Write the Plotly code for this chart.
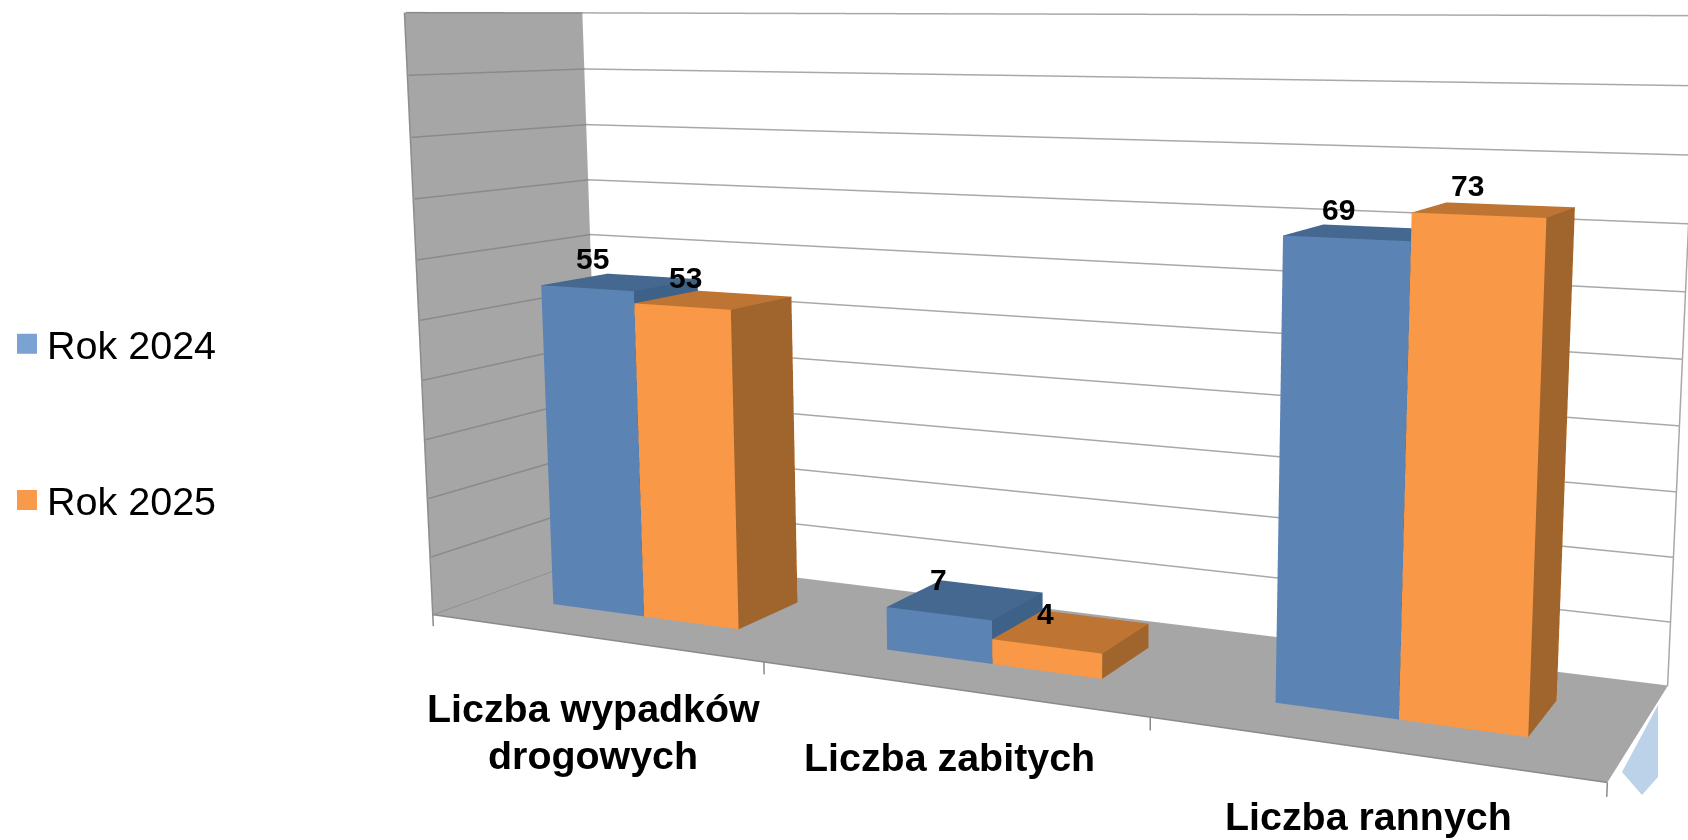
import numpy as np
import plotly.graph_objects as go

# Data
categories = [["Liczba wypadków", "drogowych"], ["Liczba zabitych"], ["Liczba rannych"]]
rok_2024 = [55, 7, 69]
rok_2025 = [53, 4, 73]
value_ticks = list(range(0, 101, 10))

# Camera and box geometry of the 3D view
EYE = (0.1911, -1.5666, 0.5405)
CENTER = (-0.0935, -0.4824, 0.0900)
UP = (-0.0176, 0.0587, 1.0)
AX, AY, AZ = 2.0, 0.2980, 1.0771
GAP, BAR_W, DEPTH_0, DEPTH_1 = 0.2169, 0.2865, 0.3010, 0.6976
SHEAR_XY, SHEAR_XZ, SHEAR_YX, SHEAR_YZ = 0.3011, -0.1603, 0.1898, 1.0930
K = 8.0

BLUE = ['#44688F', '#5B84B5', '#3E6188']
ORANGE = ['#BE7433', '#F99847', '#A0652D']
FLAT = dict(ambient=1, diffuse=0, specular=0, fresnel=0, roughness=1)
FONT = 'Liberation Sans'


def T(x, y, z):
    x, y, z = (np.array(v, float) for v in (x, y, z))
    return x + SHEAR_XY * y + SHEAR_XZ * z / 100, y + SHEAR_YX * x / 3 + SHEAR_YZ * z / 100, z


fig = go.Figure()


def box(x0, x1, y0, y1, h, cols):
    X = [x0, x1, x1, x0, x0, x1, x1, x0]
    Y = [y0, y0, y1, y1, y0, y0, y1, y1]
    Z = [0, 0, 0, 0, h, h, h, h]
    a, b, c = T(X, Y, Z)
    fig.add_trace(go.Mesh3d(
        x=a, y=b, z=c,
        i=[4, 4, 0, 0, 1, 1, 3, 3], j=[5, 6, 1, 5, 2, 6, 2, 6], k=[6, 7, 5, 4, 6, 5, 6, 7],
        facecolor=[cols[0]] * 2 + [cols[1]] * 2 + [cols[2]] * 2 + [cols[1]] * 2,
        flatshading=True, hoverinfo='skip', showlegend=False, lighting=FLAT))


for i in range(3):
    box(i + GAP, i + GAP + BAR_W, DEPTH_0, DEPTH_1, rok_2024[i], BLUE)
    box(i + GAP + BAR_W, i + GAP + 2 * BAR_W, DEPTH_0, DEPTH_1, rok_2025[i], ORANGE)

for q in ([[0, 3, 3, 0], [0, 0, 1, 1], [0, 0, 0, 0]], [[0, 0, 0, 0], [0, 1, 1, 0], [0, 0, 100, 100]]):
    a, b, c = T(*q)
    fig.add_trace(go.Mesh3d(x=a, y=b, z=c, i=[0, 0], j=[1, 2], k=[2, 3], color='#A6A6A6',
                            hoverinfo='skip', showlegend=False, lighting=FLAT))


def lines(segs, color, width):
    xs, ys, zs = [], [], []
    for s in segs:
        a, b, c = T(*zip(*s))
        xs += list(a) + [None]
        ys += list(b) + [None]
        zs += list(c) + [None]
    fig.add_trace(go.Scatter3d(x=xs, y=ys, z=zs, mode='lines', line=dict(color=color, width=width),
                               hoverinfo='skip', showlegend=False))


lines([[(0, 1, t), (3, 1, t)] for t in value_ticks] + [[(3, 1, 0), (3, 1, 100)], [(0, 1, 0), (0, 1, 100)]], '#A8A8A8', 3)
lines([[(0.004, 0, t), (0.004, 1, t)] for t in value_ticks] + [[(0, 0, 0), (0, 0, 100)]], '#8A8A8A', 3)
lines([[(0, 0, 0), (3, 0, 0)]] + [[(i, 0, 0), (i, 0, -2)] for i in range(4)], '#8A8A8A', 3)

for name, col, grp in (('Rok 2024', '#7AA3D4', 'a'), ('Rok 2025', '#F9994A', 'b')):
    fig.add_trace(go.Scatter3d(x=[None], y=[None], z=[None], mode='markers', name=name, legendgroup=grp,
                               marker=dict(symbol='square', size=16, color=col, line=dict(color=col, width=4))))

anns = []
shift_2024 = [(-28, -24), (-27, -20), (-27, -23)]
shift_2025 = [(-28, -22), (-26, -18), (-27, -24)]
for i in range(3):
    for sr, vals, shifts in ((0, rok_2024, shift_2024), (1, rok_2025, shift_2025)):
        a, b, c = T(i + GAP + (sr + .5) * BAR_W, (DEPTH_0 + DEPTH_1) / 2, vals[i])
        anns.append(dict(x=float(a), y=float(b), z=float(c), text=f"<b>{vals[i]}</b>", showarrow=False,
                         xshift=shifts[i][0], yshift=-shifts[i][1],
                         font=dict(family=FONT, size=30, color='black')))
label_shift = [[(1, 71), (1, 118)], [(0, 69)], [(0, 68)]]
for i, rows in enumerate(categories):
    for row, sh in zip(rows, label_shift[i]):
        a, b, c = T(i + .5, 0, 0)
        anns.append(dict(x=float(a), y=float(b), z=float(c), text=f"<b>{row}</b>", showarrow=False,
                         xshift=sh[0], yshift=-sh[1], font=dict(family=FONT, size=39.4, color='black')))

ghost = [(1658, 705), (1622, 772), (1642, 795), (1658, 777)]
ghost_path = 'M ' + ' L '.join(f'{x / 1688:.5f} {1 - y / 840:.5f}' for x, y in ghost) + ' Z'

fig.update_layout(
    width=1688, height=840, margin=dict(l=0, r=0, t=0, b=0), paper_bgcolor='white', showlegend=True,
    scene=dict(
        domain=dict(x=[0, 1], y=[0, 1]), aspectmode='manual', bgcolor='white',
        aspectratio=dict(x=AX * K, y=AY * K, z=AZ * K),
        xaxis=dict(visible=False, autorange=False, range=[1.5 - 1.5 * K, 1.5 + 1.5 * K]),
        yaxis=dict(visible=False, autorange=False, range=[.5 - .5 * K, .5 + .5 * K]),
        zaxis=dict(visible=False, autorange=False, range=[50 - 50 * K, 50 + 50 * K]),
        camera=dict(eye=dict(x=EYE[0], y=EYE[1], z=EYE[2]),
                    center=dict(x=CENTER[0], y=CENTER[1], z=CENTER[2]),
                    up=dict(x=UP[0], y=UP[1], z=UP[2]), projection=dict(type='perspective')),
        annotations=anns),
    legend=dict(x=7 / 1688, y=1 - 311.5 / 840, xanchor='left', yanchor='top', tracegroupgap=102, itemwidth=30,
                font=dict(family=FONT, size=39.5, color='black'), bgcolor='rgba(0,0,0,0)'),
    shapes=[dict(type='path', xref='paper', yref='paper', path=ghost_path, fillcolor='#BCD2E8', line=dict(width=0))])

fig.write_html("out.html", post_script="document.body.style.margin='0';", config=dict(displayModeBar=False))
